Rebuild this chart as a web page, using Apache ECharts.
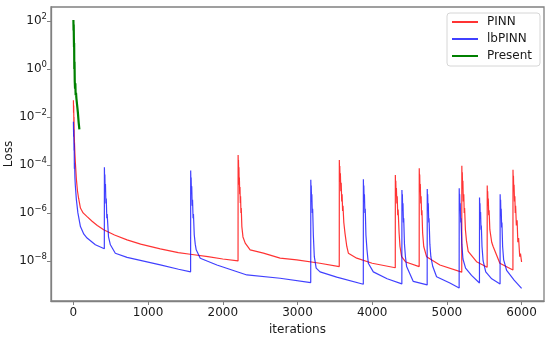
<!DOCTYPE html>
<html>
<head>
<meta charset="utf-8">
<script src="https://cdn.jsdelivr.net/npm/echarts@6/dist/echarts.min.js"></script>
<style>html,body{margin:0;padding:0;background:#fff}#c{width:550px;height:339px}</style>
</head>
<body>
<div id="c"></div>
<script>
// [iteration, loss]
const pinnData = [
  [0,5e-2],[2,1.5e-2],[4,3e-2],[6,6e-3],[8,1e-2],[10,2e-3],[13,1.1e-3],[20,3e-4],[30,8e-5],[40,2.5e-5],[55,8e-6],[70,4e-6],[94,1.6e-6],
  [130,1.0e-6],[183,7e-7],[250,4.5e-7],[320,3e-7],[405,2e-7],[550,1.2e-7],[718,7.5e-8],[900,5e-8],[1163,3.2e-8],
  [1404,2.2e-8],[1564,1.9e-8],[1800,1.5e-8],[2000,1.2e-8],[2204,1.0e-8],
  [2205,2.6e-4],[2208,8e-5],[2210,1.6e-4],[2213,4e-5],[2216,8e-5],[2219,1.5e-5],[2222,3e-5],[2226,6e-6],[2230,1.2e-5],
  [2234,2.6e-6],[2238,5e-6],[2243,1e-6],[2247,1.6e-6],[2255,2.7e-7],[2270,1.0e-7],[2300,5.5e-8],[2366,2.9e-8],[2544,2.1e-8],[2767,1.3e-8],
  [2990,1.1e-8],[3300,8e-9],[3559,5.8e-9],
  [3560,1.6e-4],[3563,4e-5],[3566,9e-5],[3570,2e-5],[3574,4.5e-5],[3580,8e-6],[3585,1.8e-5],[3592,3e-6],[3597,6e-6],
  [3604,1.2e-6],[3609,2e-6],[3620,4e-7],[3636,1.4e-7],[3660,4e-8],[3681,2.1e-8],[3793,1.3e-8],[4000,8e-9],[4309,5.2e-9],
  [4310,3.8e-5],[4313,1e-5],[4316,2.2e-5],[4320,5e-6],[4324,1.1e-5],[4330,2.5e-6],[4335,5e-6],[4342,8e-7],[4347,1.4e-6],[4360,1.5e-7],
  [4372,4e-8],[4394,1.5e-8],[4450,9e-9],[4629,5.8e-9],
  [4630,7.2e-5],[4633,2e-5],[4636,4e-5],[4640,8e-6],[4644,1.6e-5],[4650,2.5e-6],[4655,5e-6],[4661,8e-7],[4666,1.3e-6],[4675,1.5e-7],[4690,4e-8],
  [4728,1.5e-8],[4906,6.8e-9],[5199,3.4e-9],
  [5200,9.3e-5],[5203,2.5e-5],[5206,5e-5],[5210,1e-5],[5214,2.2e-5],[5220,3e-6],[5226,6e-6],[5232,1e-6],[5237,1.6e-6],[5248,2e-7],[5262,7e-8],
  [5285,2.5e-8],[5397,9.3e-9],[5539,5.5e-9],
  [5540,1.4e-5],[5543,4e-6],[5546,8e-6],[5550,2e-6],[5554,4e-6],[5560,8e-7],[5565,1.3e-6],[5575,2e-7],[5600,6e-8],[5619,4e-8],
  [5709,8e-9],[5884,4.2e-9],
  [5885,6.3e-5],[5888,1.8e-5],[5891,3.5e-5],[5895,8e-6],[5899,1.5e-5],[5905,3e-6],[5910,5e-6],[5915,1e-6],[5920,2e-6],
  [5930,3e-7],[5940,5e-7],[5950,6e-8],[5960,9e-8],[5975,1.5e-8],[5985,2e-8],[6000,9e-9]
];
const lbpinnData = [
  [0,6.3e-3],[3,1.5e-3],[5,3e-3],[8,4e-4],[10,8e-4],[13,7e-5],[16,1.2e-4],[20,3e-5],[25,1.5e-5],[40,3.5e-6],[60,1e-6],
  [94,2.7e-7],[140,1.3e-7],[183,9e-8],[294,4.7e-8],[414,3.2e-8],
  [415,8e-5],[418,2e-5],[421,4e-5],[425,8e-6],[429,1.6e-5],[435,2.5e-6],[440,4e-6],[447,6e-7],[452,9e-7],[470,1e-7],[495,4.7e-8],
  [561,2.1e-8],[718,1.4e-8],[1163,6.8e-9],[1408,4.5e-9],[1569,3.5e-9],
  [1570,5.8e-5],[1573,1.5e-5],[1576,3e-5],[1580,6e-6],[1584,1.3e-5],[1590,2e-6],[1595,3.5e-6],[1602,6e-7],[1607,9e-7],[1618,1.2e-7],[1631,5e-8],
  [1644,2.9e-8],[1698,1.3e-8],[1921,6.8e-9],[2322,2.6e-9],[2767,1.9e-9],[3177,1.25e-9],
  [3178,2.4e-5],[3181,7e-6],[3184,1.4e-5],[3188,3e-6],[3192,6e-6],[3198,1e-6],[3203,1.5e-6],[3212,1.2e-7],[3225,1.5e-8],[3250,5e-9],[3302,3.5e-9],
  [3525,2.1e-9],[3881,1.07e-9],
  [3882,2.5e-5],[3885,7e-6],[3888,1.4e-5],[3892,3e-6],[3896,6e-6],[3902,1e-6],[3907,1.5e-6],[3916,1.2e-7],[3930,3e-8],[3948,8e-9],
  [4015,3.5e-9],[4200,1.8e-9],[4397,1.1e-9],
  [4398,9e-6],[4401,3e-6],[4404,6e-6],[4408,1.2e-6],[4412,2.5e-6],[4418,4e-7],[4422,6e-7],[4432,5e-8],[4445,1.5e-8],[4461,5.8e-9],[4550,1.4e-9],
  [4736,1e-9],
  [4737,1e-5],[4740,3e-6],[4743,6e-6],[4747,1.2e-6],[4751,2.5e-6],[4757,4e-7],[4761,6e-7],[4772,5e-8],[4785,1.5e-8],[4810,6e-9],[4862,2.2e-9],
  [5040,1.2e-9],[5164,7.5e-10],
  [5165,1.07e-5],[5168,3e-6],[5171,6e-6],[5175,1.2e-6],[5179,2.5e-6],[5185,4e-7],[5189,6e-7],[5200,5e-8],[5215,1.2e-8],[5250,5e-9],[5330,2.5e-9],
  [5436,1.2e-9],
  [5437,4.4e-6],[5440,1.3e-6],[5443,2.5e-6],[5447,6e-7],[5451,1.1e-6],[5457,2e-7],[5461,3e-7],[5470,4e-8],[5485,1e-8],[5520,3.5e-9],[5600,1.8e-9],
  [5712,1.1e-9],
  [5713,6e-6],[5716,1.8e-6],[5719,3.5e-6],[5723,8e-7],[5727,1.5e-6],[5733,2.5e-7],[5737,4e-7],[5746,4e-8],[5760,1.1e-8],[5800,4e-9],[5900,1.6e-9],
  [6000,7.2e-10]
];
const presentData = [
  [0,110],[2,40],[4,70],[6,20],[8,8],[10,12],[12,1],[15,2],[18,0.3],[22,0.15],[26,0.25],[30,0.08],[35,0.1],[40,0.06],[50,0.03],[60,0.015],
  [70,0.006],[80,0.003]
];
const seriesNames = ['PINN', 'lbPINN', 'Present'];
const xTicks = [0, 1000, 2000, 3000, 4000, 5000, 6000];
const yTicks = [1e-8, 1e-6, 1e-4, 1e-2, 1e0, 1e2];

const FONT = 'DejaVu Sans';
const AX = '#808080';
const TXT = '#1a1a1a';
const chart = echarts.init(document.getElementById('c'), null, {renderer: 'canvas'});
function supLabel(v) {
  const e = Math.round(Math.log10(v));
  return '{b|10}{e|' + (e < 0 ? '\u2212' + (-e) : e) + '}';
}
chart.setOption({
  animation: false,
  grid: {left: 51, top: 7, right: 6, bottom: 38, outerBoundsMode: 'none', containLabel: false,
         show: true, borderColor: AX, borderWidth: 1.3, backgroundColor: 'transparent'},
  legend: {
    left: 447, top: 13, orient: 'vertical',
    padding: [3, 8, 4, 4], itemWidth: 26, itemHeight: 14, itemGap: 5,
    borderColor: '#d6d6d6', borderWidth: 1, borderRadius: 3, backgroundColor: 'rgba(255,255,255,0.8)',
    itemStyle: {opacity: 0},
    textStyle: {fontFamily: FONT, fontSize: 12, color: TXT, padding: [0,0,0,4]},
    data: seriesNames
  },
  xAxis: {
    type: 'value', min: -300, max: 6300, splitNumber: 6,
    name: 'iterations', nameLocation: 'middle', nameGap: 23, nameMoveOverlap: false,
    nameTextStyle: {fontFamily: FONT, fontSize: 12, color: TXT},
    axisLine: {show: true, onZero: false, lineStyle: {color: AX, width: 1.3}},
    axisTick: {show: true, length: 4, lineStyle: {color: AX, width: 1}, customValues: xTicks},
    axisLabel: {fontFamily: FONT, fontSize: 12, color: TXT, margin: 6, customValues: xTicks, formatter: v => String(v)},
    splitLine: {show: false}
  },
  yAxis: {
    type: 'log', logBase: 100, min: 2.14e-10, max: 380,
    name: 'Loss', nameLocation: 'middle', nameGap: 36, nameRotate: 90, nameMoveOverlap: false,
    nameTextStyle: {fontFamily: FONT, fontSize: 12, color: TXT},
    axisLine: {show: true, onZero: false, lineStyle: {color: AX, width: 1.3}},
    axisTick: {show: true, length: 4, lineStyle: {color: AX, width: 1}, customValues: yTicks},
    axisLabel: {
      margin: 4, customValues: yTicks,
      formatter: supLabel,
      rich: {
        b: {fontFamily: FONT, fontSize: 12, color: TXT},
        e: {fontFamily: FONT, fontSize: 8.5, color: TXT, verticalAlign: 'top', padding: [0,0,8,0]}
      }
    },
    splitLine: {show: false}
  },
  series: [
    {name: 'PINN', type: 'line', data: pinnData, symbol: 'none', color: 'rgba(255,0,0,0.8)', lineStyle: {width: 1.2, color: 'rgba(255,0,0,0.8)'}},
    {name: 'lbPINN', type: 'line', data: lbpinnData, symbol: 'none', color: 'rgba(0,0,255,0.75)', lineStyle: {width: 1.2, color: 'rgba(0,0,255,0.75)'}},
    {name: 'Present', type: 'line', data: presentData, symbol: 'none', color: '#008000', lineStyle: {width: 2.2, color: '#008000'}}
  ]
});
</script>
</body>
</html>
